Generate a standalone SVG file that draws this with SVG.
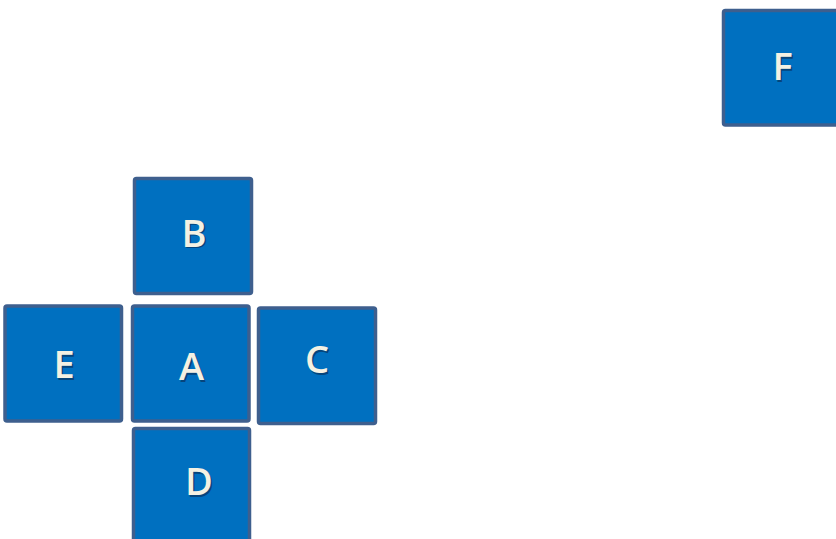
<svg xmlns="http://www.w3.org/2000/svg" width="836" height="539" viewBox="0 0 836 539">
<defs>
<style>
.box{fill:#0070C0;stroke:#3E5F8E;stroke-width:3.5;}
.lbl{font-family:"Open Sans","Noto Sans",sans-serif;font-size:38px;font-weight:600;fill:#F4F1E3;text-anchor:middle;}
.sh{font-family:"Open Sans","Noto Sans",sans-serif;font-size:38px;font-weight:600;fill:#0A2A50;opacity:0.6;text-anchor:middle;}
</style>
</defs>
<rect width="836" height="539" fill="#FFFFFF"/>
<g id="connectors"></g>
<g id="node-B">
<rect class="box" x="134.5" y="178.5" width="117" height="115" rx="2"/>
<text class="sh" x="195.5" y="248">B</text>
<text class="lbl" x="194" y="246.5">B</text>
</g>
<g id="node-E">
<rect class="box" x="5" y="306" width="116.5" height="115" rx="2"/>
<text class="sh" x="65.5" y="379.5">E</text>
<text class="lbl" x="64" y="378">E</text>
</g>
<g id="node-A">
<rect class="box" x="132.5" y="306" width="116.5" height="115" rx="2"/>
<text class="sh" x="193" y="381.5">A</text>
<text class="lbl" x="191.5" y="380">A</text>
</g>
<g id="node-C">
<rect class="box" x="258.5" y="308" width="117" height="115.5" rx="2"/>
<text class="sh" x="318.5" y="374.5">C</text>
<text class="lbl" x="317" y="373">C</text>
</g>
<g id="node-D">
<rect class="box" x="133.5" y="428.5" width="116" height="118" rx="2"/>
<text class="sh" x="200.5" y="496.5">D</text>
<text class="lbl" x="199" y="495">D</text>
</g>
<g id="node-F">
<rect class="box" x="723.5" y="10.5" width="120" height="114.5" rx="2"/>
<text class="sh" x="784" y="81.5">F</text>
<text class="lbl" x="782.5" y="80">F</text>
</g>
</svg>
